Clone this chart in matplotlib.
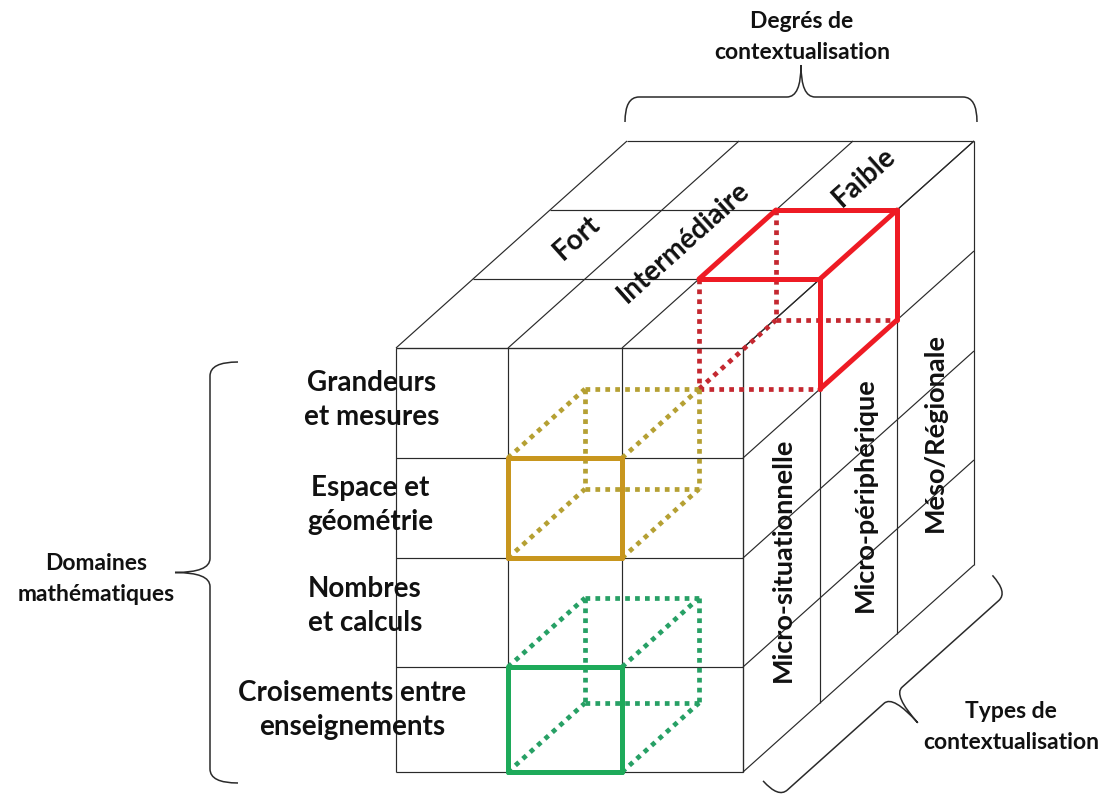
import numpy as np
import matplotlib
matplotlib.use("Agg")
import matplotlib.pyplot as plt
from matplotlib.path import Path
from matplotlib.patches import PathPatch

plt.rcParams['font.family'] = ['Lato', 'DejaVu Sans']

# ---- categories / labels ----
domaines = ["Grandeurs\net mesures", "Espace et\ngéométrie", "Nombres\net calculs",
            "Croisements entre\nenseignements"]
degres = ["Fort", "Intermédiaire", "Faible"]
types_ctx = ["Micro-situationnelle", "Micro-périphérique", "Méso/Régionale"]
title_domaines = "Domaines\nmathématiques"
title_degres = "Degrés de\ncontextualisation"
title_types = "Types de\ncontextualisation"

# highlighted cells: (column, row, depth)
highlight_cells = [(2, 0, 1), (1, 1, 0), (1, 3, 0)]
highlight_kind = ["top", "front", "front"]
highlight_solid = ["#EE1B24", "#C8961E", "#1EAA5A"]
highlight_dotted = ["#C42830", "#B5A033", "#27A065"]

# ---- layout (pixels) ----
col_x = [396, 508, 622, 743]
row_y = [348, 458, 558, 667, 772]
DX, DY = 231, -207   # full depth offset
ND = 3

def P(c, r, d):
    c0 = int(min(np.floor(c), len(col_x) - 2)); fc = c - c0
    x = col_x[c0] + fc * (col_x[c0 + 1] - col_x[c0])
    r0 = int(min(np.floor(r), len(row_y) - 2)); fr = r - r0
    y = row_y[r0] + fr * (row_y[r0 + 1] - row_y[r0])
    return x + d / ND * DX, y + d / ND * DY

fig = plt.figure(figsize=(11.09, 7.94), dpi=100)
ax = fig.add_axes([0, 0, 1, 1])
ax.set_xlim(0, 1109)
ax.set_ylim(794, 0)
ax.axis("off")

gk = dict(color="#2a2a2a", lw=0.85, solid_capstyle="butt", zorder=2)

def seg(a, b, **kw):
    ax.plot([a[0], b[0]], [a[1], b[1]], **kw)

NC = len(col_x) - 1
NR = len(row_y) - 1
# front face
for c in range(NC + 1):
    seg(P(c, 0, 0), P(c, NR, 0), **gk)
for r in range(NR + 1):
    seg(P(0, r, 0), P(NC, r, 0), **gk)
# top face
for c in range(NC + 1):
    seg(P(c, 0, 0), P(c, 0, ND), **gk)
for d in range(ND + 1):
    seg(P(0, 0, d), P(NC, 0, d), **gk)
# right face
for d in range(ND + 1):
    seg(P(NC, 0, d), P(NC, NR, d), **gk)
for r in range(NR + 1):
    seg(P(NC, r, 0), P(NC, r, ND), **gk)

# highlighted cubes
for (c, r, d), kind, cs, cd in zip(highlight_cells, highlight_kind, highlight_solid, highlight_dotted):
    V = {}
    for i in (0, 1):
        for j in (0, 1):
            for k in (0, 1):
                V[(i, j, k)] = P(c + i, r + j, d + k)
    edges = []
    for a in V:
        for b in V:
            if a < b and sum(abs(np.array(a) - np.array(b))) == 1:
                edges.append((a, b))
    for a, b in edges:
        if kind == "front":
            solid = a[2] == 0 and b[2] == 0
        else:
            top = a[1] == 0 and b[1] == 0
            right_face = a[0] == 1 and b[0] == 1
            solid = top or right_face
        if solid:
            seg(V[a], V[b], color=cs, lw=3.6, solid_capstyle="round", zorder=5)
        else:
            seg(V[a], V[b], color=cd, lw=3.4, linestyle=(0, (1, 1.1)),
                dash_capstyle="butt", zorder=4)

# braces
def brace(p0, p1, n, q, p, c):
    p0 = np.array(p0, float); p1 = np.array(p1, float); n = np.array(n, float)
    L = np.linalg.norm(p1 - p0); u = (p1 - p0) / L
    loc = [(0, 0), (0, q), (c, q), (L / 2 - c, q), (L / 2, q), (L / 2, q + p),
           (L / 2, q), (L / 2 + c, q), (L - c, q), (L, q), (L, 0)]
    pts = [p0 + t * u + s * n for t, s in loc]
    codes = [Path.MOVETO, Path.CURVE3, Path.CURVE3, Path.LINETO, Path.CURVE3, Path.CURVE3,
             Path.CURVE3, Path.CURVE3, Path.LINETO, Path.CURVE3, Path.CURVE3]
    ax.add_patch(PathPatch(Path(pts, codes), fill=False, edgecolor="#2a2a2a", lw=1.1, zorder=3))

brace((625, 122), (977, 122), (0, -1), 25, 32, 14)
brace((238, 362), (238, 783), (-1, 0), 28, 35, 14)
u = np.array([DX, DY], float); u /= np.linalg.norm(u)
nvec = np.array([-u[1], u[0]])
if nvec[1] < 0:
    nvec = -nvec
base = np.array(P(NC, NR, 0))
brace(base + 9 * u + 20 * nvec, base + 317 * u + 20 * nvec, nvec, 23, 37, 12)

tk = dict(fontweight="bold", color="#111111", ha="center", va="center", zorder=6)
BIG = 20
SIDE = 19.5
SMALL = 16.5

dom_pos = [(372, 400), (370, 505), (365, 606), (352, 710)]
for s, (x, y) in zip(domaines, dom_pos):
    ax.text(x, y, s, fontsize=BIG, linespacing=1.4, **tk)

ang = np.degrees(np.arctan2(-DY, DX))
deg_pos = [(577, 238), (684, 242), (864, 177)]
for s, (x, y) in zip(degres, deg_pos):
    ax.text(x, y, s, fontsize=BIG, rotation=ang, rotation_mode="anchor", **tk)

typ_pos = [(783, 560), (865, 495), (935, 432)]
for s, (x, y) in zip(types_ctx, typ_pos):
    ax.text(x, y, s, fontsize=SIDE, rotation=90, rotation_mode="anchor", **tk)

ax.text(96, 579, title_domaines, fontsize=SMALL, linespacing=1.6, **tk)
ax.text(802, 37, title_degres, fontsize=SMALL, linespacing=1.6, **tk)
ax.text(1011, 727, title_types, fontsize=SMALL, linespacing=1.6, **tk)

fig.savefig("out.png", dpi=100, facecolor="white")
